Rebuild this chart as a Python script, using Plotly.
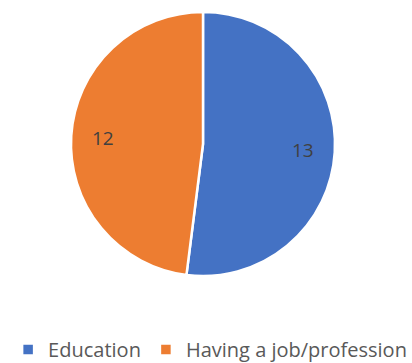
import math
import plotly.graph_objects as go

labels = ["Education", "Having a job/profession"]
values = [13, 12]
colors = ["#4472C4", "#ED7D31"]

W, H = 412, 363

# pie placement in paper coordinates
dom_x = [71 / W, 335 / W]
dom_y = [(H - 276) / H, (H - 12) / H]

fig = go.Figure(go.Pie(
    labels=labels,
    values=values,
    sort=False,
    direction="clockwise",
    rotation=0,
    marker=dict(colors=colors, line=dict(color="white", width=2.5)),
    textinfo="none",
    domain=dict(x=dom_x, y=dom_y),
    hoverinfo="label+value",
))

# value labels placed along each slice's mid-angle, at ~3/4 of the radius
total = sum(values)
cx_px = (dom_x[0] + dom_x[1]) / 2 * W
cy_px = (dom_y[0] + dom_y[1]) / 2 * H
radius_px = (dom_x[1] - dom_x[0]) * W / 2
start = 0.0
for v in values:
    mid = (start + v / 2) / total * 2 * math.pi  # clockwise from 12 o'clock
    start += v
    r = 0.76 * radius_px
    x = cx_px + r * math.sin(mid)
    y = cy_px + r * math.cos(mid)
    fig.add_annotation(
        x=x / W, y=y / H, xref="paper", yref="paper",
        xanchor="center", yanchor="middle",
        text=str(v), showarrow=False,
        font=dict(family="Open Sans", size=19, color="#404040"),
    )

fig.update_layout(
    width=W,
    height=H,
    margin=dict(l=0, r=0, t=0, b=0, autoexpand=False),
    paper_bgcolor="white",
    plot_bgcolor="white",
    showlegend=True,
    legend=dict(
        orientation="h",
        x=0.51,
        xanchor="center",
        y=33 / H,
        yanchor="top",
        font=dict(family="Open Sans", size=20, color="#595959"),
        itemwidth=30,
        traceorder="normal",
    ),
)

fig.write_html("out.html")
